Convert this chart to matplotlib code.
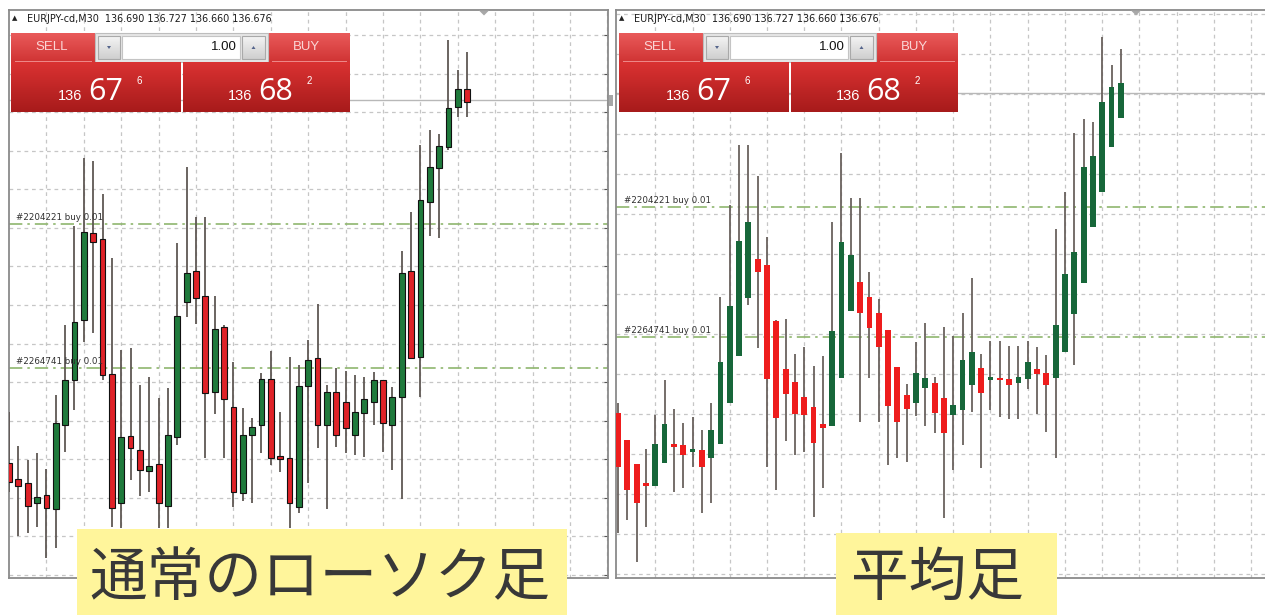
import numpy as np
import matplotlib
matplotlib.use("Agg")
import matplotlib.pyplot as plt
from matplotlib.patches import Rectangle, Polygon

# ---------------- data ----------------
# Left: standard candlesticks, EURJPY-cd M30
std_open = [136.313, 136.297, 136.293, 136.273, 136.281, 136.267, 136.351, 136.396, 136.456, 136.543,
            136.537, 136.402, 136.273, 136.340, 136.326, 136.305, 136.312, 136.270, 136.339, 136.474,
            136.505, 136.480, 136.384, 136.449, 136.369, 136.283, 136.341, 136.351, 136.397, 136.320,
            136.318, 136.269, 136.390, 136.418, 136.351, 136.384, 136.374, 136.341, 136.363, 136.374,
            136.396, 136.351, 136.379, 136.505, 136.419, 136.574, 136.608, 136.629, 136.669, 136.687]
std_high = [136.364, 136.330, 136.316, 136.323, 136.307, 136.381, 136.451, 136.550, 136.618, 136.615,
            136.582, 136.518, 136.426, 136.428, 136.391, 136.399, 136.378, 136.388, 136.533, 136.609,
            136.559, 136.559, 136.480, 136.451, 136.414, 136.368, 136.358, 136.403, 136.425, 136.364,
            136.419, 136.411, 136.436, 136.472, 136.391, 136.408, 136.405, 136.401, 136.399, 136.404,
            136.396, 136.389, 136.525, 136.564, 136.631, 136.646, 136.642, 136.736, 136.706, 136.724]
std_low = [136.284, 136.240, 136.243, 136.249, 136.218, 136.228, 136.324, 136.366, 136.434, 136.443,
           136.396, 136.249, 136.248, 136.296, 136.280, 136.284, 136.248, 136.248, 136.331, 136.459,
           136.452, 136.318, 136.362, 136.318, 136.269, 136.275, 136.273, 136.323, 136.311, 136.304,
           136.248, 136.263, 136.293, 136.328, 136.267, 136.329, 136.323, 136.321, 136.319, 136.351,
           136.324, 136.306, 136.277, 136.418, 136.379, 136.540, 136.538, 136.626, 136.659, 136.659]
std_close = [136.294, 136.290, 136.270, 136.279, 136.268, 136.353, 136.396, 136.454, 136.544, 136.534,
             136.401, 136.268, 136.339, 136.328, 136.306, 136.310, 136.273, 136.341, 136.460, 136.503,
             136.478, 136.383, 136.447, 136.377, 136.284, 136.341, 136.349, 136.397, 136.318, 136.317,
             136.273, 136.390, 136.416, 136.351, 136.384, 136.341, 136.348, 136.364, 136.377, 136.396,
             136.353, 136.379, 136.503, 136.418, 136.576, 136.609, 136.630, 136.668, 136.687, 136.674]

# Right: Heikin-Ashi candles
ha_open = [136.356, 136.329, 136.305, 136.286, 136.283, 136.306, 136.325, 136.324, 136.318, 136.319,
           136.311, 136.325, 136.366, 136.413, 136.471, 136.510, 136.504, 136.448, 136.400, 136.387,
           136.372, 136.362, 136.345, 136.343, 136.391, 136.458, 136.487, 136.472, 136.456, 136.439,
           136.402, 136.374, 136.366, 136.381, 136.386, 136.371, 136.354, 136.359, 136.384, 136.401,
           136.389, 136.391, 136.390, 136.386, 136.390, 136.400, 136.396, 136.391, 136.417, 136.455,
           136.486, 136.542, 136.577, 136.622, 136.651]
ha_high = [136.366, 136.329, 136.305, 136.320, 136.354, 136.389, 136.360, 136.346, 136.352, 136.339,
           136.366, 136.472, 136.564, 136.624, 136.624, 136.593, 136.532, 136.449, 136.450, 136.415,
           136.422, 136.403, 136.413, 136.547, 136.616, 136.571, 136.571, 136.497, 136.470, 136.439,
           136.402, 136.385, 136.427, 136.446, 136.392, 136.442, 136.433, 136.456, 136.491, 136.415,
           136.428, 136.428, 136.423, 136.423, 136.428, 136.422, 136.414, 136.540, 136.577, 136.636,
           136.650, 136.647, 136.732, 136.704, 136.720]
ha_low = [136.236, 136.249, 136.207, 136.242, 136.283, 136.306, 136.277, 136.281, 136.302, 136.256,
          136.266, 136.325, 136.366, 136.413, 136.464, 136.421, 136.302, 136.279, 136.328, 136.314,
          136.317, 136.252, 136.281, 136.343, 136.391, 136.458, 136.347, 136.391, 136.347, 136.304,
          136.311, 136.307, 136.353, 136.343, 136.336, 136.251, 136.299, 136.324, 136.357, 136.301,
          136.359, 136.352, 136.350, 136.350, 136.380, 136.355, 136.337, 136.311, 136.417, 136.404,
          136.486, 136.542, 136.577, 136.622, 136.651]
ha_close = [136.302, 136.279, 136.266, 136.283, 136.325, 136.345, 136.322, 136.314, 136.319, 136.302,
            136.339, 136.407, 136.463, 136.528, 136.547, 136.497, 136.390, 136.351, 136.375, 136.355,
            136.354, 136.326, 136.341, 136.438, 136.527, 136.514, 136.456, 136.441, 136.422, 136.363,
            136.347, 136.360, 136.396, 136.391, 136.356, 136.336, 136.364, 136.409, 136.417, 136.376,
            136.392, 136.389, 136.384, 136.392, 136.407, 136.395, 136.384, 136.444, 136.495, 136.517,
            136.602, 136.613, 136.667, 136.682, 136.686]

current_price = 136.676
orders = [("#2204221 buy 0.01", 136.552, 136.562), ("#2264741 buy 0.01", 136.408, 136.432)]
header = "EURJPY-cd,M30  136.690 136.727 136.660 136.676"
bid_parts = ("136", "67", "6")
ask_parts = ("136", "68", "2")
lot_text = "1.00"
labels = ("通常のローソク足", "平均足")

# ---------------- figure ----------------
W, H = 1265, 615
fig = plt.figure(figsize=(W / 100, H / 100), dpi=100)
fig.patch.set_facecolor("white")


def px_box(x0, y0, x1, y1):
    return [x0 / W, 1 - y1 / H, (x1 - x0) / W, (y1 - y0) / H]


axL = fig.add_axes(px_box(9, 10, 608, 578))
axR = fig.add_axes(px_box(616, 10, 1268, 578))


def draw_candles(ax, o, h, l, c, up, down, edge, elw, wick_c, width=0.62, min_h=0.0022):
    o, h, l, c = (np.asarray(v, dtype=float) for v in (o, h, l, c))
    x = np.arange(len(o))
    ax.vlines(x, l, h, color=wick_c, lw=1.3, zorder=3)
    lo = np.minimum(o, c)
    hi = np.maximum(o, c)
    small = (hi - lo) < min_h
    bottom = np.where(small, (hi + lo) / 2 - min_h / 2, lo)
    height = np.where(small, min_h, hi - lo)
    colors = np.where(c > o, up, down)
    ax.bar(x, height, width, bottom=bottom, color=colors, edgecolor=edge,
           linewidth=elw, zorder=4)


def style_chart(ax, xlim, ylim, xgrid, ygrid, right_ticks):
    ax.set_xlim(*xlim)
    ax.set_ylim(*ylim)
    ax.set_xticks(xgrid)
    ax.set_yticks(ygrid)
    ax.set_axisbelow(True)
    ax.grid(True, color="#c6c6c6", ls=(0, (3, 3)), lw=0.9)
    ax.tick_params(labelleft=False, labelbottom=False, left=False, bottom=False,
                   right=right_ticks, direction="in", length=3, color="#555555")
    for s in ax.spines.values():
        s.set_color("#8a8a8a")
        s.set_linewidth(1.3)


# left chart
style_chart(axL, (0, 64.06), (136.198, 136.766), np.arange(4, 65, 4),
            136.741 - 0.03857 * np.arange(15), True)
axL.axhline(current_price, color="#b8b8b8", lw=1, zorder=1)
draw_candles(axL, std_open, std_high, std_low, std_close,
             "#1f7a3c", "#df2228", "#111111", 0.8, "#5f5854")

# right chart
style_chart(axR, (-0.215, 69.8), (136.191, 136.759), np.arange(4, 70, 4),
            136.755 - 0.040 * np.arange(15), False)
axR.spines["right"].set_visible(False)
axR.axhline(current_price, color="#b8b8b8", lw=1, zorder=1)
draw_candles(axR, ha_open, ha_high, ha_low, ha_close,
             "#17673a", "#ee1d1d", "none", 0, "#6a625e")

for name, pL, pR in orders:
    for ax, p in ((axL, pL), (axR, pR)):
        ax.axhline(p, color="#8fb66e", ls=(0, (8, 3, 1.5, 3)), lw=1.2, zorder=2)
        ax.annotate(name, xy=(0.012, p), xycoords=("axes fraction", "data"),
                    xytext=(0, 4.5), textcoords="offset points", va="center", ha="left",
                    fontsize=6.3, color="#303030", family="DejaVu Sans", zorder=6)

# ---------------- overlay (panels, labels) ----------------
ov = fig.add_axes([0, 0, 1, 1])
ov.set_xlim(0, W)
ov.set_ylim(H, 0)
ov.axis("off")
ov.patch.set_alpha(0)
ov.set_zorder(10)


def grad_rect(x0, y0, x1, y1, c_top, c_bot, edge=None):
    from matplotlib.colors import LinearSegmentedColormap
    cmap = LinearSegmentedColormap.from_list("g", [c_top, c_bot])
    arr = np.linspace(0, 1, 64).reshape(-1, 1)
    ov.imshow(arr, cmap=cmap, extent=(x0, x1, y1, y0), origin="upper",
              aspect="auto", interpolation="bilinear", zorder=2)
    if edge:
        ov.add_patch(Rectangle((x0, y0), x1 - x0, y1 - y0, fill=False, ec=edge, lw=0.8, zorder=3))


def trade_panel(x0, hx):
    # header
    ov.text(hx + 3, 18.5, "▲", fontsize=5, color="#222222", va="center", ha="left")
    ov.text(hx + 18, 18.5, header, fontsize=6.9, color="#1a1a1a", va="center", ha="left",
            family="DejaVu Sans")
    # sell / buy buttons
    grad_rect(x0, 33, x0 + 84, 62, "#e95a5a", "#d03434")
    grad_rect(x0 + 257, 33, x0 + 339, 62, "#e95a5a", "#d03434")
    ov.plot([x0 + 4, x0 + 80], [61, 61], color="#ee8a8a", lw=0.7, zorder=4)
    ov.plot([x0 + 261, x0 + 335], [61, 61], color="#ee8a8a", lw=0.7, zorder=4)
    ov.text(x0 + 41, 47.5, "SELL", fontsize=9.5, color="#fbd6d6", ha="center", va="center",
            family="Liberation Sans", zorder=5)
    ov.text(x0 + 295, 47.5, "BUY", fontsize=9.5, color="#fbd6d6", ha="center", va="center",
            family="Liberation Sans", zorder=5)
    # lot box
    ov.add_patch(Rectangle((x0 + 84, 33), 173, 29, fc="#e6e6e6", ec="#bdbdbd", lw=0.8, zorder=2))
    grad_rect(x0 + 87, 36, x0 + 109, 59, "#f4f4f4", "#cfcfcf", edge="#a9a9a9")
    grad_rect(x0 + 231, 36, x0 + 254, 59, "#f4f4f4", "#cfcfcf", edge="#a9a9a9")
    ov.add_patch(Rectangle((x0 + 111, 36), 118, 23, fc="white", ec="#c4c4c4", lw=0.8, zorder=3))
    ov.add_patch(Polygon([(x0 + 96, 46), (x0 + 100, 46), (x0 + 98, 49)], closed=True,
                         fc="#55658c", ec="none", zorder=5))
    ov.add_patch(Polygon([(x0 + 240.5, 49), (x0 + 244.5, 49), (x0 + 242.5, 46)], closed=True,
                         fc="#55658c", ec="none", zorder=5))
    ov.text(x0 + 226, 47.5, lot_text, fontsize=9.5, color="#111111", ha="right", va="center",
            family="Liberation Sans", zorder=5)
    # price boxes
    grad_rect(x0, 62, x0 + 170, 112, "#da3232", "#a71b1b")
    grad_rect(x0 + 172, 62, x0 + 339, 112, "#da3232", "#a71b1b")
    for bx, parts in ((x0, bid_parts), (x0 + 170, ask_parts)):
        ov.text(bx + 59, 100, parts[0], fontsize=10.5, color="white", ha="center",
                va="baseline", family="Liberation Sans", zorder=5)
        ov.text(bx + 77, 100, parts[1], fontsize=22, color="white", ha="left",
                va="baseline", family="Open Sans", zorder=5)
        ov.text(bx + 128, 81.5, parts[2], fontsize=7, color="white", ha="center",
                va="center", family="Liberation Sans", zorder=5)


trade_panel(11, 9)
trade_panel(619, 616)

# top markers & misc
for cx in (484, 1136):
    ov.add_patch(Polygon([(cx - 5, 10.5), (cx + 5, 10.5), (cx, 15.5)], closed=True,
                         fc="#a8a8a8", ec="none", zorder=4))
ov.add_patch(Rectangle((609, 95), 4, 11, fc="#a6a6a6", ec="none", zorder=4))

# label boxes
ov.add_patch(Rectangle((77, 529), 490, 90, fc="#fff59b", ec="none", zorder=6))
ov.text(320, 579, labels[0], fontsize=41.5, color="#383838", ha="center", va="center",
        family=["Noto Sans CJK JP", "DejaVu Sans"], zorder=7)
ov.add_patch(Rectangle((836, 533), 221, 86, fc="#fff59b", ec="none", zorder=6))
ov.text(937, 579, labels[1], fontsize=41.5, color="#383838", ha="center", va="center",
        family=["Noto Sans CJK JP", "DejaVu Sans"], zorder=7)

ov.set_xlim(0, W)
ov.set_ylim(H, 0)

fig.savefig("out.png", dpi=100, facecolor="white")
